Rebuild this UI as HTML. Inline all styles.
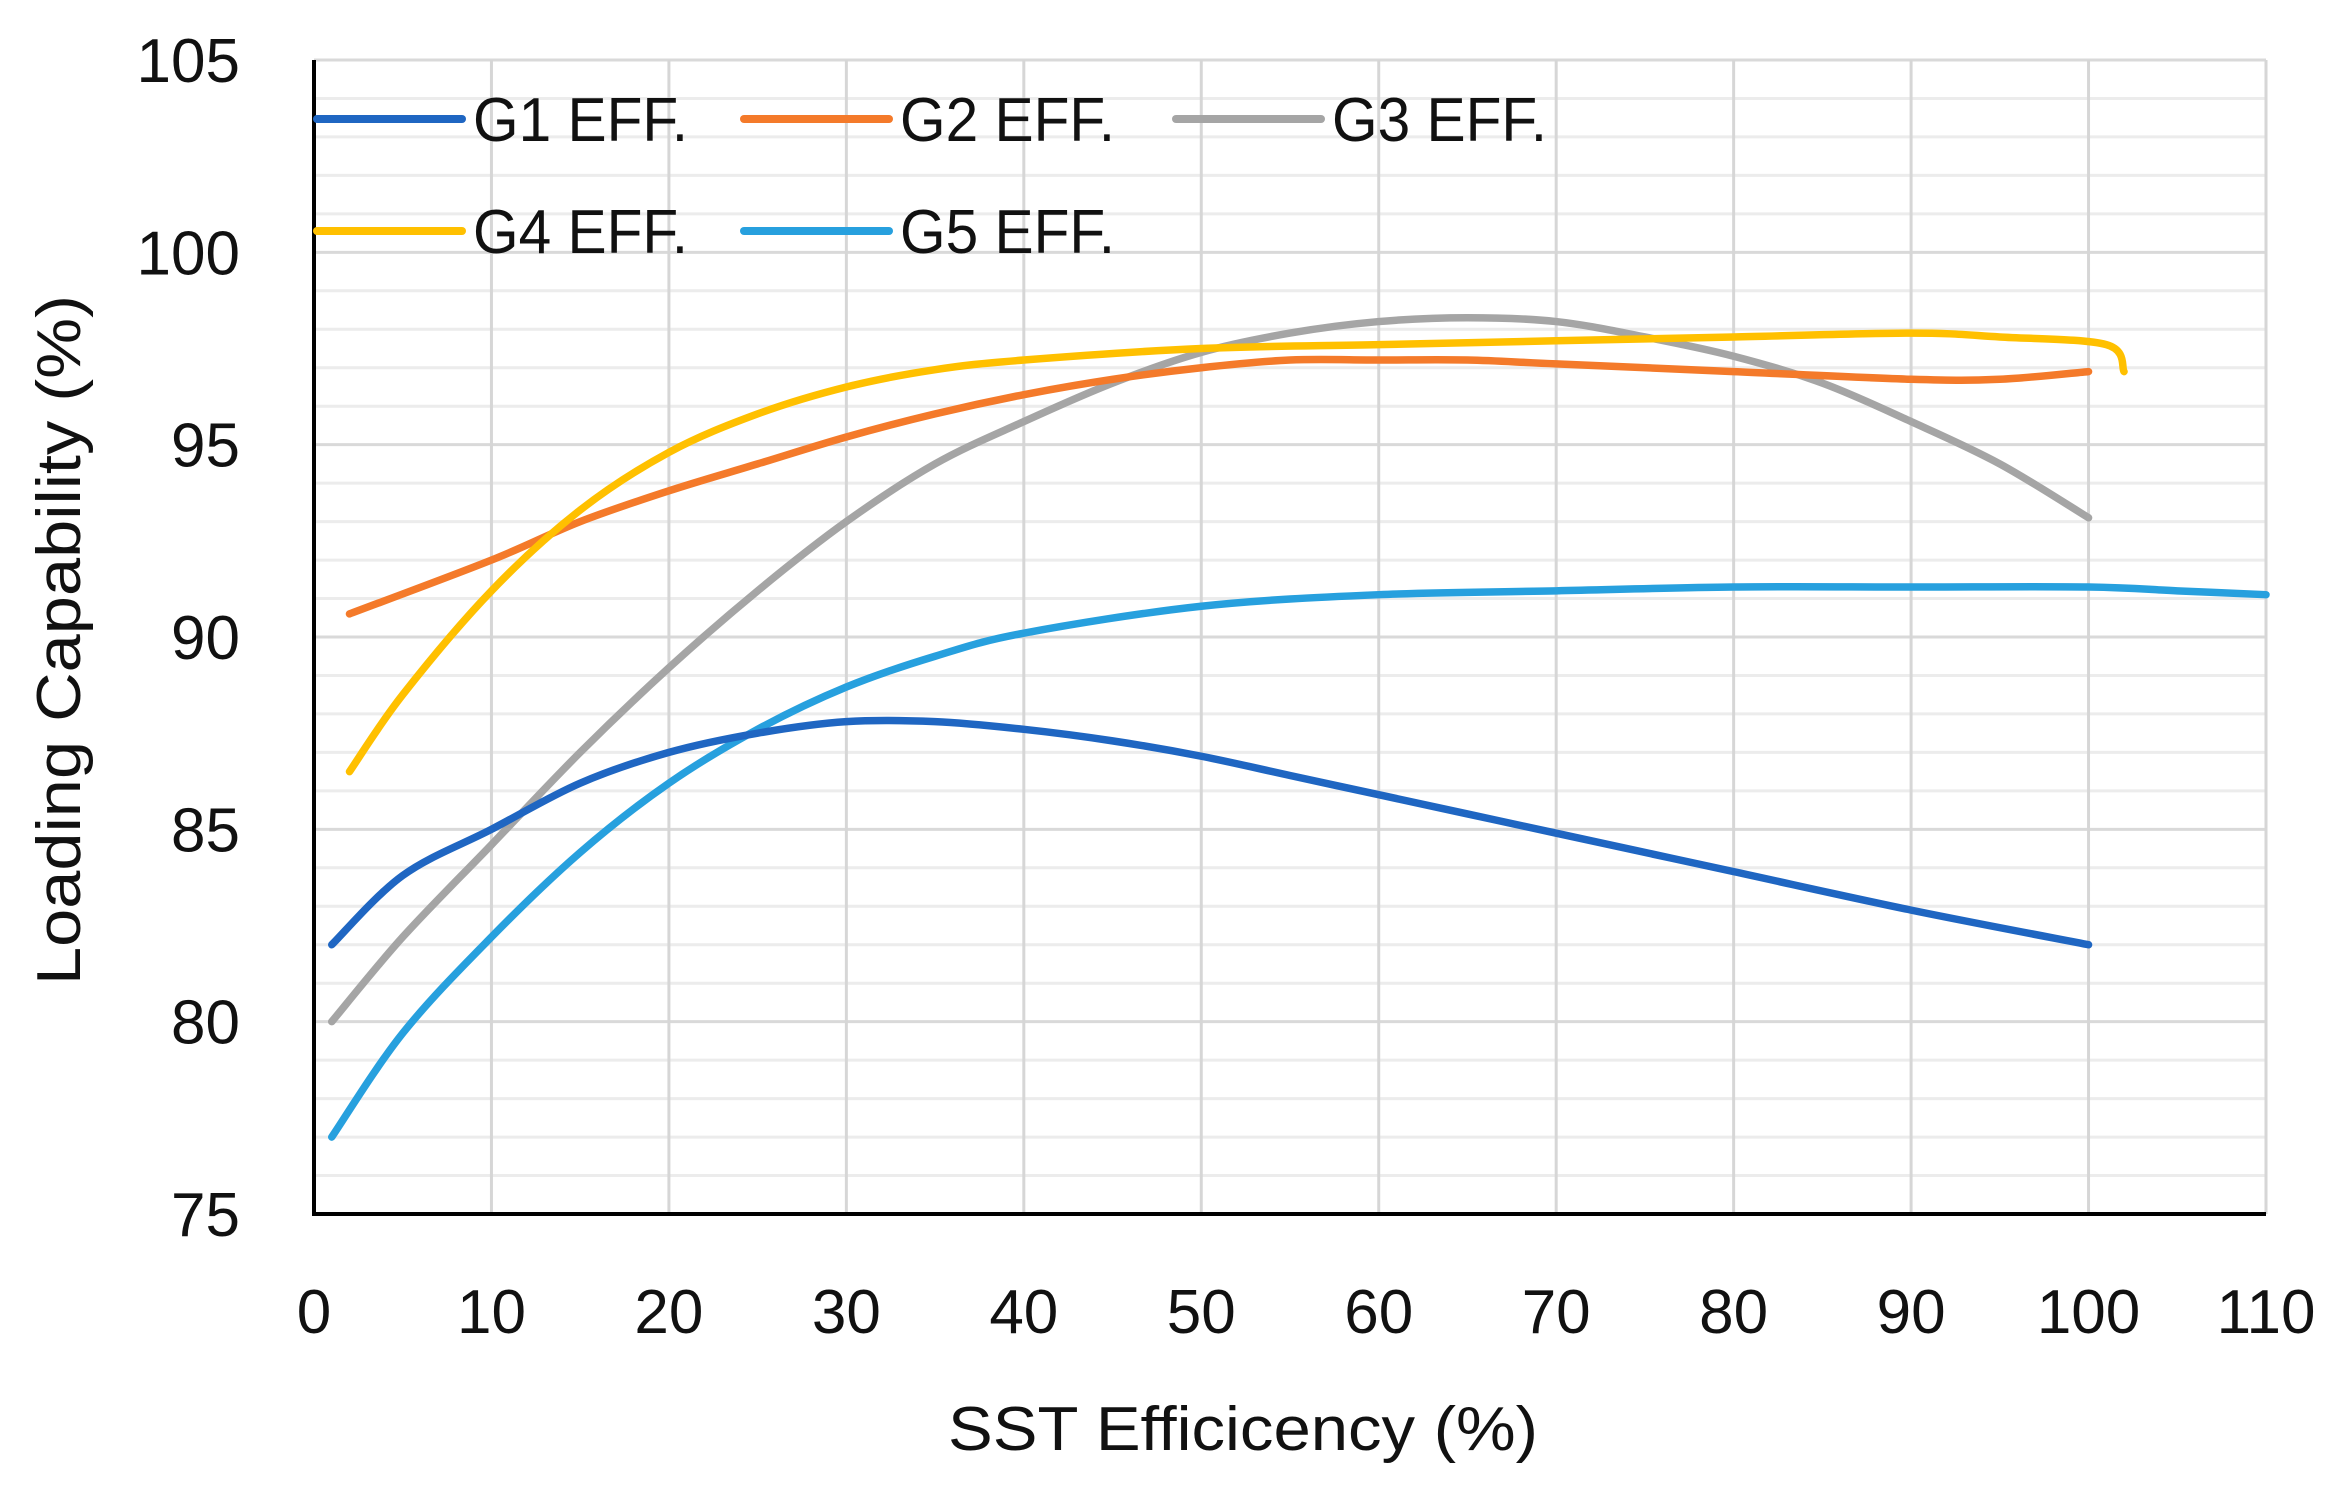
<!DOCTYPE html>
<html><head><meta charset="utf-8"><style>
html,body{margin:0;padding:0;background:#fff;}
svg text{font-family:"Liberation Sans",sans-serif;fill:#111;}
</style></head><body>
<svg id="chart" width="2335" height="1485" xmlns="http://www.w3.org/2000/svg">
<g id="grid"></g>
<g id="axes"></g>
<g id="series"></g>
<g id="legend"></g>
<text x="1243" y="1450" font-size="62" text-anchor="middle" textLength="590" lengthAdjust="spacingAndGlyphs">SST Efficicency (%)</text>
<text transform="translate(80,640) rotate(-90)" font-size="62" text-anchor="middle" textLength="690" lengthAdjust="spacingAndGlyphs">Loading Capability (%)</text>
</svg>
<script>
const xTicks=[0,10,20,30,40,50,60,70,80,90,100,110];
const yTicks=[75,80,85,90,95,100,105];
const seriesNames=["G1 EFF.","G2 EFF.","G3 EFF.","G4 EFF.","G5 EFF."];
const g1x=[1,5,10,15,20,25,30,35,40,45,50,55,60,65,70,80,90,100];
const g1y=[82,83.8,85,86.2,87,87.5,87.8,87.8,87.6,87.3,86.9,86.4,85.9,85.4,84.9,83.9,82.9,82];
const g2x=[2,10,15,20,25,30,35,40,45,50,55,60,65,70,80,90,95,100];
const g2y=[90.6,92,93,93.8,94.5,95.2,95.8,96.3,96.7,97,97.2,97.2,97.2,97.1,96.9,96.7,96.7,96.9];
const g3x=[1,5,10,15,20,25,30,35,40,45,50,55,60,65,70,75,80,85,90,95,100];
const g3y=[80,82.2,84.6,87,89.2,91.2,93,94.5,95.6,96.6,97.4,97.9,98.2,98.3,98.2,97.8,97.3,96.6,95.6,94.5,93.1];
const g4x=[2,5,10,15,20,25,30,35,40,50,60,70,80,90,95,101,102];
const g4y=[86.5,88.5,91.2,93.3,94.8,95.8,96.5,96.95,97.2,97.5,97.6,97.7,97.8,97.9,97.8,97.6,96.9];
const g5x=[1,5,10,15,20,25,30,35,40,50,60,70,80,90,100,105,110];
const g5y=[77,79.7,82.2,84.4,86.2,87.6,88.7,89.5,90.1,90.8,91.1,91.2,91.3,91.3,91.3,91.2,91.1];

const NS="http://www.w3.org/2000/svg";
const X0=314,X1=2266,Y0=1214,Y1=60;
const sx=v=>X0+(v-0)/110*(X1-X0);
const sy=v=>Y0-(v-75)/30*(Y0-Y1);
function mk(tag,attrs,parent){const e=document.createElementNS(NS,tag);for(const k in attrs)e.setAttribute(k,attrs[k]);parent.appendChild(e);return e;}
const grid=document.getElementById('grid'),axes=document.getElementById('axes'),ser=document.getElementById('series'),leg=document.getElementById('legend');
for(let v=76;v<=105;v++){
  if(v%5===0)continue;
  const l=mk('line',{x1:X0,x2:X1,y1:sy(v),y2:sy(v),stroke:'#ececec','stroke-width':3},grid);
  
  
}
yTicks.forEach(v=>{
  if(v>75){const l=mk('line',{x1:X0,x2:X1,y1:sy(v),y2:sy(v),stroke:'#d9d9d9','stroke-width':3},grid);
  
  }
  const t=mk('text',{x:240,y:sy(v)+22,'font-size':62,'text-anchor':'end'},axes);t.textContent=v;
  
  
});
xTicks.forEach(v=>{
  if(v>0){const l=mk('line',{x1:sx(v),x2:sx(v),y1:Y1,y2:Y0,stroke:'#d6d6d6','stroke-width':3},grid);
  
  }
  const t=mk('text',{x:sx(v),y:1333,'font-size':62,'text-anchor':'middle'},axes);t.textContent=v;
  
  
});
const ya=mk('line',{x1:X0,x2:X0,y1:Y1,y2:Y0+2,stroke:'#000','stroke-width':4},axes);


const xa=mk('line',{x1:X0-2,x2:X1,y1:Y0,y2:Y0,stroke:'#000','stroke-width':4},axes);



function smooth(xs,ys){
  const p=xs.map((x,i)=>[sx(x),sy(ys[i])]);
  let d=`M${p[0][0]},${p[0][1]}`;
  for(let i=0;i<p.length-1;i++){
    const a=p[i-1]||p[i],b=p[i],c=p[i+1],e=p[i+2]||c;
    const c1=[b[0]+(c[0]-a[0])/6,b[1]+(c[1]-a[1])/6],c2=[c[0]-(e[0]-b[0])/6,c[1]-(e[1]-b[1])/6];
    d+=` C${c1[0]},${c1[1]} ${c2[0]},${c2[1]} ${c[0]},${c[1]}`;
  }
  return d;
}
const colors=['#1f66c2','#f47a2a','#a5a5a5','#ffc000','#27a0de'];
const data=[[g1x,g1y],[g2x,g2y],[g3x,g3y],[g4x,g4y],[g5x,g5y]];
const order=[2,1,3,4,0];
order.forEach(i=>{
  const p=mk('path',{d:smooth(data[i][0],data[i][1]),fill:'none',stroke:colors[i],'stroke-width':7.5,'stroke-linecap':'round','stroke-linejoin':'round'},ser);
  
  
});
const legPos=[[317,119],[744,119],[1176,119],[317,231],[744,231]];
seriesNames.forEach((n,i)=>{
  const [lx,ly]=legPos[i];
  const g=mk('g',{},leg);
  
  
  mk('line',{x1:lx,x2:lx+145,y1:ly,y2:ly,stroke:colors[i],'stroke-width':8,'stroke-linecap':'round'},g);
  const t=mk('text',{x:lx+156,y:ly+22,'font-size':62,textLength:215,lengthAdjust:'spacingAndGlyphs'},g);t.textContent=n;
});
</script>
</body></html>
